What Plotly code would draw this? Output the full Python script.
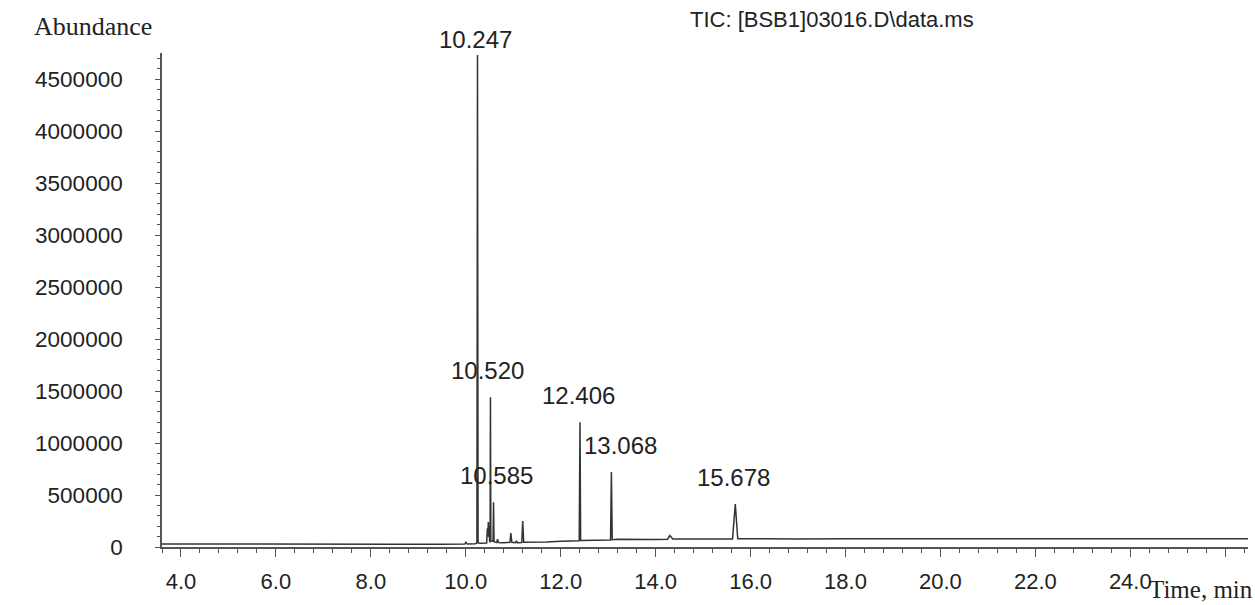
import plotly.graph_objects as go

# ---- data ----
time_min = [
    3.60, 4.50, 5.50, 6.50, 7.50, 8.50, 9.50, 9.98, 10.00, 10.03,
    10.20, 10.235, 10.247, 10.259, 10.30,
    10.44, 10.455, 10.465, 10.475, 10.485, 10.495, 10.505,
    10.512, 10.520, 10.528,
    10.575, 10.585, 10.595,
    10.65, 10.67, 10.69,
    10.80, 10.93, 10.95, 10.97,
    11.05, 11.07, 11.09,
    11.18, 11.20, 11.22,
    11.40, 11.70, 12.00, 12.20,
    12.39, 12.406, 12.42,
    12.70, 13.05, 13.068, 13.085,
    13.20, 13.60, 14.00, 14.25, 14.30, 14.36, 14.80, 15.30,
    15.62, 15.678, 15.73,
    16.20, 17.00, 18.00, 19.00, 20.00, 21.00, 22.00, 23.00, 24.00, 25.00, 26.00, 26.48,
]
abundance = [
    30000, 28000, 27000, 26000, 25000, 26000, 27000, 28000, 45000, 30000,
    32000, 40000, 4730000, 40000, 35000,
    38000, 180000, 100000, 240000, 150000, 60000, 45000,
    50000, 1440000, 60000,
    55000, 430000, 50000,
    42000, 75000, 42000,
    40000, 45000, 135000, 45000,
    42000, 60000, 42000,
    44000, 250000, 45000,
    45000, 48000, 55000, 58000,
    60000, 1200000, 62000,
    65000, 68000, 720000, 70000,
    75000, 72000, 72000, 75000, 110000, 78000, 75000, 76000,
    78000, 413000, 80000,
    78000, 78000, 80000, 79000, 80000, 79000, 80000, 80000, 79000, 80000, 80000, 80000,
]

peak_times = [10.247, 10.520, 10.585, 12.406, 13.068, 15.678]
peak_heights = [4730000, 1440000, 430000, 1200000, 720000, 413000]

x_tick_vals = [4, 6, 8, 10, 12, 14, 16, 18, 20, 22, 24, 26]
x_tick_text = ["4.0", "6.0", "8.0", "10.0", "12.0", "14.0", "16.0", "18.0", "20.0", "22.0", "24.0", ""]
y_tick_vals = [0, 500000, 1000000, 1500000, 2000000, 2500000, 3000000, 3500000, 4000000, 4500000]

# label placement (style only)
label_yshift = [0, 11, 11, 11, 11, 11]
label_xshift = [-2, -3, 3, -1, 9, -2]

SANS = "Liberation Sans, Arial, sans-serif"
SERIF = "Liberation Serif, Times New Roman, serif"
AXIS_COLOR = "#555555"

fig = go.Figure()
fig.add_trace(go.Scatter(
    x=time_min, y=abundance, mode="lines",
    line=dict(color="#333333", width=1.5),
    showlegend=False, hoverinfo="x+y",
))

annotations = []
for t, h, ys, xs in zip(peak_times, peak_heights, label_yshift, label_xshift):
    annotations.append(dict(
        x=t, y=h, xref="x", yref="y", text=f"{t:.3f}", showarrow=False,
        yanchor="bottom", xanchor="center", yshift=ys, xshift=xs,
        font=dict(family=SANS, size=24, color="#222222"),
    ))

annotations += [
    dict(x=-0.120, y=1.053, xref="paper", yref="paper", text="Abundance",
         showarrow=False, xanchor="left", yanchor="middle",
         font=dict(family=SERIF, size=26, color="#222222")),
    dict(x=1.006, y=-0.1174, xref="paper", yref="paper", text="Time, min",
         showarrow=False, xanchor="right", yanchor="bottom",
         font=dict(family=SERIF, size=25, color="#222222")),
    dict(x=0.617, y=1.067, xref="paper", yref="paper", text="TIC: [BSB1]03016.D\\data.ms",
         showarrow=False, xanchor="center", yanchor="middle",
         font=dict(family=SANS, size=22, color="#222222")),
]

fig.update_layout(
    width=1255, height=605,
    margin=dict(l=162, r=7, t=53, b=58),
    paper_bgcolor="white", plot_bgcolor="white",
    annotations=annotations,
    xaxis=dict(
        range=[3.6, 26.48], tickmode="array", tickvals=x_tick_vals, ticktext=x_tick_text,
        ticks="outside", ticklen=8, tickwidth=1.3, tickcolor=AXIS_COLOR,
        showline=True, linecolor=AXIS_COLOR, linewidth=1.6,
        showgrid=False, zeroline=False,
        tickfont=dict(family=SANS, size=22, color="#222222"),
        ticklabelstandoff=6,
        minor=dict(tickmode="linear", tick0=3.6, dtick=0.4, ticks="outside",
                   ticklen=4, tickwidth=1.1, tickcolor=AXIS_COLOR, showgrid=False),
    ),
    yaxis=dict(
        range=[0, 4750000], tickmode="array", tickvals=y_tick_vals, tickformat="d",
        ticks="outside", ticklen=5, tickwidth=1.3, tickcolor=AXIS_COLOR,
        showline=True, linecolor=AXIS_COLOR, linewidth=1.6,
        showgrid=False, zeroline=False,
        tickfont=dict(family=SANS, size=22.5, color="#222222"),
        ticklabelstandoff=28,
        minor=dict(tickmode="linear", tick0=0, dtick=100000, ticks="outside",
                   ticklen=3, tickwidth=1.1, tickcolor=AXIS_COLOR, showgrid=False),
    ),
)

fig.write_html(
    "out.html",
    config={"displayModeBar": False},
    post_script="document.body.style.margin='0';document.body.style.overflow='hidden';",
)
